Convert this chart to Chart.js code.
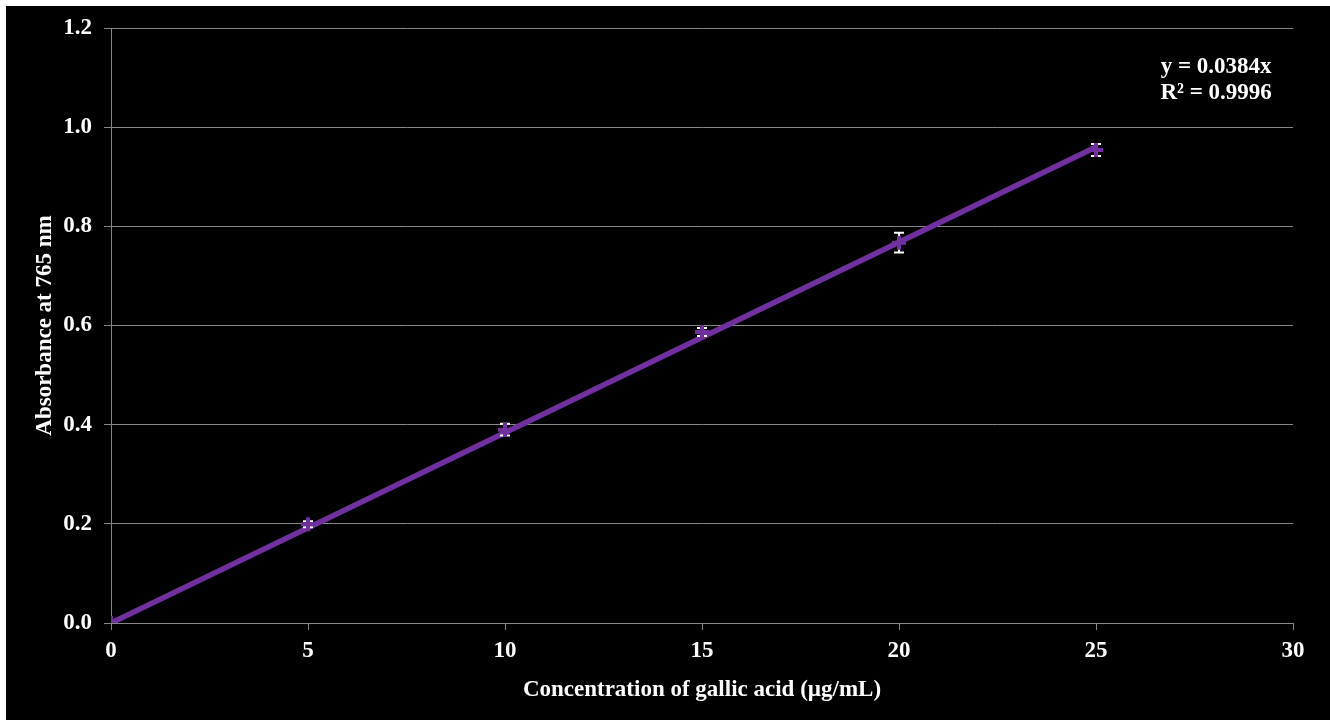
<!DOCTYPE html>
<html>
<head>
<meta charset="utf-8">
<script src="https://cdn.jsdelivr.net/npm/chart.js@4/dist/chart.umd.min.js"></script>
<style>
  body { margin: 0; background: #fff; }
  #wrap { position: absolute; left: 6px; top: 6px; width: 1324px; height: 714px; background: #000; }
</style>
</head>
<body>
<div id="wrap"><canvas id="calChart"></canvas></div>
<script>
// Gallic acid calibration data
const concentrations = [0, 5, 10, 15, 20, 25];
const absorbance = [0, 0.199, 0.39, 0.587, 0.767, 0.954];
const errors = [0, 0.006, 0.012, 0.008, 0.02, 0.012];
const yTicks = [0, 0.2, 0.4, 0.6, 0.8, 1.0, 1.2];
const xTicks = [0, 5, 10, 15, 20, 25, 30];
const trendX = [0, 25];
const trendY = [0, 0.96];
const equationLines = ['y = 0.0384x', 'R\u00b2 = 0.9996'];

const purple = '#7030a0';
const gridGrey = '#878787';
const serif = '"Liberation Serif", "Times New Roman", serif';
const fontSize = 23;

// White error bars, drawn after the trendline but under the markers
const errorBarPlugin = {
  id: 'errorBars',
  afterDatasetDraw(chart, args) {
    if (args.index !== 1) return;
    const ctx = chart.ctx;
    const xs = chart.scales.x, ys = chart.scales.y;
    ctx.save();
    ctx.strokeStyle = '#fff';
    ctx.lineWidth = 2;
    concentrations.forEach((c, i) => {
      if (!errors[i]) return;
      const px = xs.getPixelForValue(c);
      const top = ys.getPixelForValue(absorbance[i] + errors[i]);
      const bot = ys.getPixelForValue(absorbance[i] - errors[i]);
      ctx.beginPath();
      ctx.moveTo(px, top); ctx.lineTo(px, bot);
      ctx.moveTo(px - 5, top); ctx.lineTo(px + 5, top);
      ctx.moveTo(px - 5, bot); ctx.lineTo(px + 5, bot);
      ctx.stroke();
    });
    ctx.restore();
  }
};

// Trendline equation in the top right
const equationPlugin = {
  id: 'equation',
  afterDraw(chart) {
    const ctx = chart.ctx;
    const x = chart.scales.x.getPixelForValue(28.05);
    const y = chart.scales.y.getPixelForValue(1.121);
    ctx.save();
    ctx.fillStyle = '#fff';
    ctx.font = 'bold ' + fontSize + 'px ' + serif;
    ctx.textAlign = 'center';
    ctx.textBaseline = 'middle';
    equationLines.forEach((line, i) => ctx.fillText(line, x, y + i * 26));
    ctx.restore();
  }
};

const ctx = document.getElementById('calChart').getContext('2d');
new Chart(ctx, {
  type: 'scatter',
  data: {
    datasets: [
      {
        label: 'Absorbance',
        data: concentrations.map((c, i) => ({ x: c, y: absorbance[i] })),
        pointStyle: 'cross',
        pointRadius: 7,
        pointBorderWidth: 4,
        borderColor: purple,
        backgroundColor: purple,
        showLine: false,
        order: 0
      },
      {
        label: 'Linear fit',
        data: trendX.map((x, i) => ({ x: x, y: trendY[i] })),
        showLine: true,
        borderColor: purple,
        borderWidth: 5.5,
        pointRadius: 0,
        order: 1
      }
    ]
  },
  options: {
    responsive: true,
    maintainAspectRatio: false,
    animation: false,
    layout: { padding: { top: 22, right: 37, left: 0, bottom: 0 } },
    plugins: {
      legend: { display: false },
      tooltip: { enabled: false }
    },
    scales: {
      x: {
        type: 'linear',
        min: 0,
        max: 30,
        afterBuildTicks: (scale) => { scale.ticks = xTicks.map(v => ({ value: v })); },
        afterFit: (scale) => { scale.height = 97; },
        grid: {
          display: true,
          drawOnChartArea: false,
          color: gridGrey,
          tickLength: 7,
          lineWidth: 1
        },
        border: { color: gridGrey, width: 1 },
        ticks: {
          color: '#fff',
          padding: 7,
          font: { family: serif, size: fontSize, weight: 'bold' }
        },
        title: {
          display: true,
          text: 'Concentration of gallic acid (\u00b5g/mL)',
          color: '#fff',
          padding: { top: 0, bottom: 16 },
          font: { family: serif, size: fontSize, weight: 'bold' }
        }
      },
      y: {
        type: 'linear',
        min: 0,
        max: 1.2,
        afterBuildTicks: (scale) => { scale.ticks = yTicks.map(v => ({ value: v })); },
        afterFit: (scale) => {
          scale.width = 105;
          scale.paddingTop = 0;
          scale.paddingBottom = 0;
        },
        grid: {
          color: gridGrey,
          tickLength: 7,
          lineWidth: 1
        },
        border: { color: gridGrey, width: 1 },
        ticks: {
          color: '#fff',
          padding: 12,
          callback: (v) => v.toFixed(1),
          font: { family: serif, size: fontSize, weight: 'bold' }
        },
        title: {
          display: true,
          text: 'Absorbance at 765 nm',
          color: '#fff',
          padding: { top: 25 },
          font: { family: serif, size: fontSize, weight: 'bold' }
        }
      }
    }
  },
  plugins: [errorBarPlugin, equationPlugin]
});
</script>
</body>
</html>
